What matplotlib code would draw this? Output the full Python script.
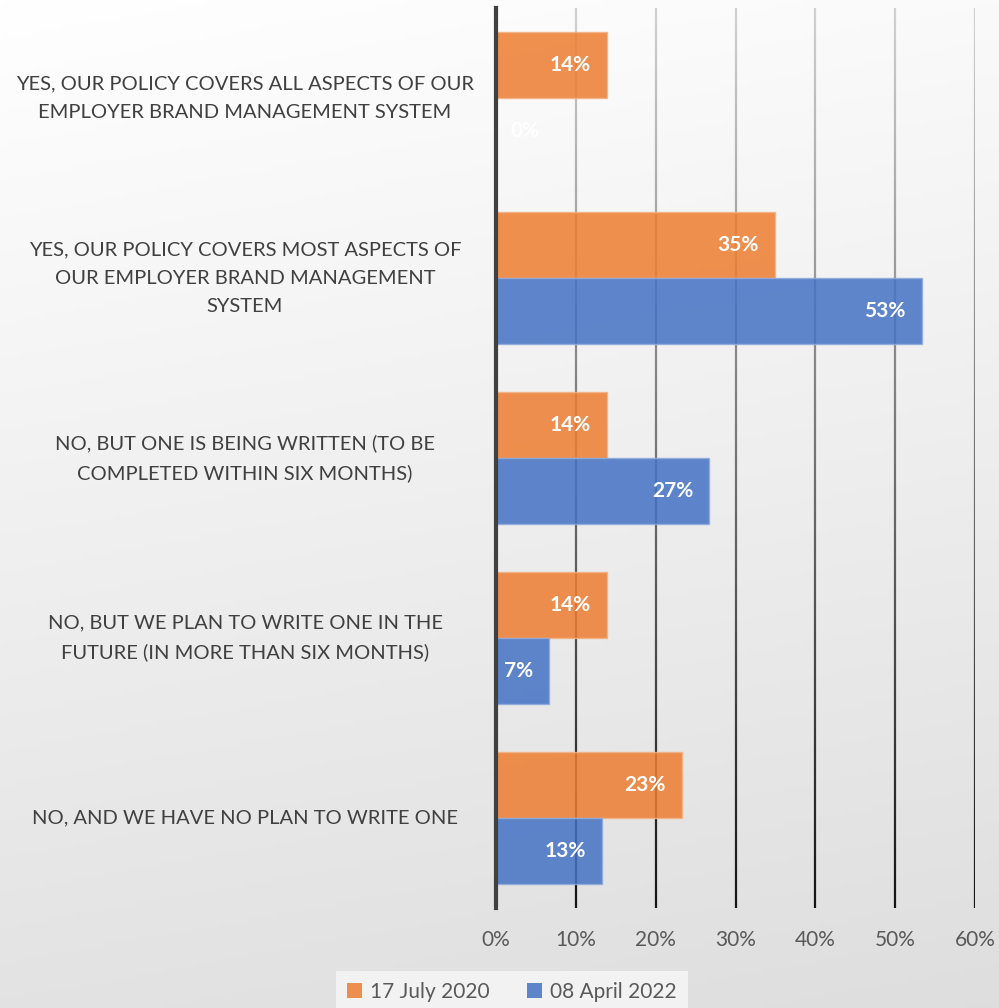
import numpy as np
import matplotlib
matplotlib.use("Agg")
import matplotlib.pyplot as plt
from matplotlib.collections import LineCollection
from matplotlib.patches import Patch

plt.rcParams['font.family'] = ['Lato', 'DejaVu Sans']

categories = [
    "YES, OUR POLICY COVERS ALL ASPECTS OF OUR\nEMPLOYER BRAND MANAGEMENT SYSTEM",
    "YES, OUR POLICY COVERS MOST ASPECTS OF\nOUR EMPLOYER BRAND MANAGEMENT\nSYSTEM",
    "NO, BUT ONE IS BEING WRITTEN (TO BE\nCOMPLETED WITHIN SIX MONTHS)",
    "NO, BUT WE PLAN TO WRITE ONE IN THE\nFUTURE (IN MORE THAN SIX MONTHS)",
    "NO, AND WE HAVE NO PLAN TO WRITE ONE",
]
series_names = ["17 July 2020", "08 April 2022"]
values_2020 = [13.9, 34.9, 13.9, 13.9, 23.3]
values_2022 = [0.0, 53.3, 26.7, 6.6, 13.3]
xticks = [0, 10, 20, 30, 40, 50, 60]

W, H = 999, 1008
fig = plt.figure(figsize=(W / 100, H / 100), dpi=100)

# background gradient
bg = fig.add_axes([0, 0, 1, 1], zorder=-10)
yy, xx = np.mgrid[0:1:200j, 0:1:200j]
g = 1.0 - 0.13 * (0.85 * yy + 0.15 * xx)
bg.imshow(np.dstack([g, g, g]), extent=[0, 1, 0, 1], aspect='auto', origin='upper')
bg.axis('off')

ax = fig.add_axes([496 / W, 1 - 908 / H, (975 - 496) / W, 900 / H])
ax.patch.set_alpha(0)

y = np.arange(len(categories))
h = 66 / 180
c_or = '#ED7D31'
c_bl = '#4472C4'
b1 = ax.barh(y - h / 2, values_2020, height=h, color=c_or, alpha=0.85,
             edgecolor='#F4B183', linewidth=1, zorder=3)
b2 = ax.barh(y + h / 2, values_2022, height=h, color=c_bl, alpha=0.85,
             edgecolor='#8FAADC', linewidth=1, zorder=3)

for bars, vals in ((b1, values_2020), (b2, values_2022)):
    for rect, v in zip(bars, vals):
        ax.text(v - 2.0 if v > 3 else 5.4, rect.get_y() + rect.get_height() / 2,
                f"{v:.0f}%", ha='right', va='center', color='white',
                fontsize=15, fontweight='bold', zorder=5)

ax.set_xlim(0, 60)
ax.set_ylim(len(categories) - 0.5, -0.5)

# gradient gridlines
ylo, yhi = -0.5, len(categories) - 0.5
n = 120
ys = np.linspace(ylo, yhi, n + 1)
segs, cols = [], []
for xv in xticks[1:]:
    for i in range(n):
        segs.append([(xv, ys[i]), (xv, ys[i + 1])])
        t = (i + 0.5) / n
        c = 0.82 - 0.74 * t
        cols.append((c, c, c))
lc = LineCollection(segs, colors=cols, linewidths=1.6, zorder=2)
ax.add_collection(lc)

for s in ['top', 'right', 'bottom']:
    ax.spines[s].set_visible(False)
ax.spines['left'].set_color('#404040')
ax.spines['left'].set_linewidth(3)
ax.spines['left'].set_zorder(6)

ax.set_xticks(xticks)
ax.set_xticklabels([f"{t}%" for t in xticks], fontsize=15, color='#595959')
ax.tick_params(axis='x', length=0, pad=16)
ax.set_yticks(y)
ax.set_yticklabels(categories, fontsize=14.5, color='#404040', ha='center', va='center',
                   multialignment='center', linespacing=1.8)
ax.tick_params(axis='y', length=0, pad=251 * 0.72)

handles = [Patch(facecolor=c_or, alpha=0.85), Patch(facecolor=c_bl, alpha=0.85)]
leg = fig.legend(handles, series_names, loc='center', bbox_to_anchor=(512 / W, 1 - 992 / H),
                 ncol=2, frameon=True, fontsize=15, handlelength=0.7, handleheight=0.7,
                 handletextpad=0.4, columnspacing=1.8, borderpad=0.55, fancybox=False)
leg.get_frame().set_facecolor('#f2f2f2')
leg.get_frame().set_edgecolor('none')
leg.get_frame().set_alpha(1)
for t in leg.get_texts():
    t.set_color('#595959')

fig.savefig('out.png', dpi=100)
